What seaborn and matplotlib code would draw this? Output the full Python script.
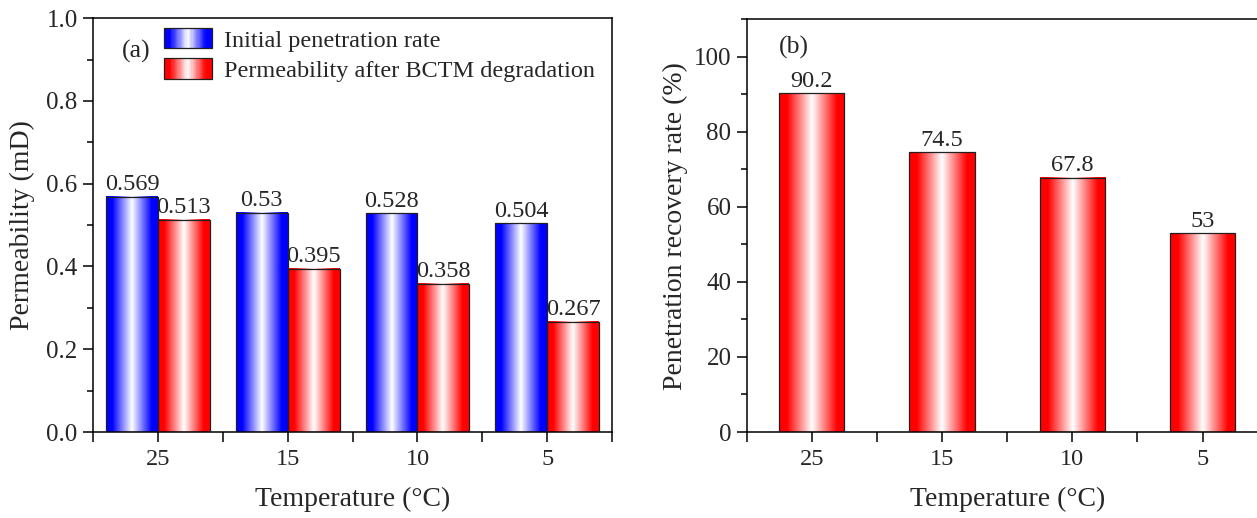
import numpy as np
import pandas as pd
import matplotlib
matplotlib.use("Agg")
import matplotlib.pyplot as plt
import seaborn as sns
from matplotlib.colors import LinearSegmentedColormap
from matplotlib.legend_handler import HandlerBase
from matplotlib.patches import Rectangle, Patch
from matplotlib.ticker import MultipleLocator, FixedLocator, FormatStrFormatter

# data
temps = ["25", "15", "10", "5"]
initial_perm = [0.569, 0.53, 0.528, 0.504]
degraded_perm = [0.513, 0.395, 0.358, 0.267]
recovery_rate = [90.2, 74.5, 67.8, 53]
series_names = ["Initial penetration rate", "Permeability after BCTM degradation"]

BLUE = "#0000ff"
RED = "#ff0000"

sns.set_style("ticks")
plt.rcParams["font.family"] = ["Liberation Serif", "DejaVu Serif"]


def grad_cmap(c):
    return LinearSegmentedColormap.from_list(
        "g", [(0, c), (0.12, c), (0.5, "white"), (0.88, c), (1, c)])


def fill_gradient(ax, patch, c):
    # paint a horizontal colour-white-colour gradient inside a bar
    x, y = patch.get_x(), patch.get_y()
    w, h = patch.get_width(), patch.get_height()
    grad = np.linspace(0, 1, 256).reshape(1, -1)
    ax.imshow(grad, cmap=grad_cmap(c), extent=[x, x + w, y, y + h],
              aspect="auto", zorder=2, interpolation="bilinear")
    patch.set_facecolor("none")
    patch.set_edgecolor("#202020")
    patch.set_linewidth(0.9)
    patch.set_zorder(3)


class GradientHandler(HandlerBase):
    def __init__(self, color):
        super().__init__()
        self.color = color

    def create_artists(self, legend, orig_handle, xdescent, ydescent,
                       width, height, fontsize, trans):
        cmap = grad_cmap(self.color)
        n = 40
        arts = []
        for i in range(n):
            r = Rectangle((-xdescent + width * i / n, -ydescent), width / n * 1.05, height,
                          facecolor=cmap((i + 0.5) / n), edgecolor="none",
                          linewidth=0, antialiased=False, transform=trans)
            arts.append(r)
        arts.append(Rectangle((-xdescent, -ydescent), width, height, facecolor="none",
                              edgecolor="#202020", linewidth=0.9, transform=trans))
        return arts


def style_axes(ax):
    for s in ax.spines.values():
        s.set_visible(True)
        s.set_linewidth(1.1)
        s.set_color("black")
    ax.tick_params(axis="both", which="both", direction="out", color="black",
                   width=1.1, top=False, right=False)
    ax.tick_params(axis="y", which="major", length=7, labelsize=18, pad=4)
    ax.tick_params(axis="y", which="minor", length=4)
    ax.tick_params(axis="x", which="major", length=7, labelsize=17.5, pad=5)
    ax.tick_params(axis="x", which="minor", length=7)
    ax.xaxis.set_minor_locator(FixedLocator([-0.5, 0.5, 1.5, 2.5, 3.5]))


fig = plt.figure(figsize=(12.57, 5.18), dpi=100)
ax1 = fig.add_axes([0.074, 0.166, 0.413, 0.799])
ax2 = fig.add_axes([0.594, 0.166, 0.4145, 0.797])

# panel (a)
df_a = pd.DataFrame({
    "temp": temps * 2,
    "series": [series_names[0]] * 4 + [series_names[1]] * 4,
    "value": initial_perm + degraded_perm,
})
sns.barplot(data=df_a, x="temp", y="value", hue="series", order=temps,
            hue_order=series_names, palette=[BLUE, RED], width=0.8,
            errorbar=None, legend=False, ax=ax1)
for cont, c, vals in zip(ax1.containers, [BLUE, RED], [initial_perm, degraded_perm]):
    for p in cont.patches:
        fill_gradient(ax1, p, c)
    ax1.bar_label(cont, labels=[str(v) for v in vals], padding=1, fontsize=17.5)
ax1.set_xlim(-0.5, 3.5)
ax1.set_ylim(0, 1.0)
ax1.yaxis.set_major_locator(MultipleLocator(0.2))
ax1.yaxis.set_minor_locator(MultipleLocator(0.1))
ax1.yaxis.set_major_formatter(FormatStrFormatter("%.1f"))
style_axes(ax1)
ax1.set_xlabel("Temperature (°C)", fontsize=20, labelpad=12)
ax1.set_ylabel("Permeability (mD)", fontsize=20, labelpad=8)
ax1.text(0.084, 0.919, "(a)", transform=ax1.transAxes, fontsize=18.5,
         ha="center", va="center")

h1, h2 = Patch(), Patch()
ax1.legend([h1, h2], series_names,
           handler_map={h1: GradientHandler(BLUE), h2: GradientHandler(RED)},
           loc="upper left", bbox_to_anchor=(0.137, 0.976), frameon=False,
           fontsize=17.5, handlelength=1.95, handleheight=0.9,
           handletextpad=0.5, labelspacing=0.28, borderpad=0, borderaxespad=0)

# panel (b)
df_b = pd.DataFrame({"temp": temps, "rate": recovery_rate})
sns.barplot(data=df_b, x="temp", y="rate", order=temps, color=RED, width=0.5,
            errorbar=None, ax=ax2)
for p in ax2.containers[0].patches:
    fill_gradient(ax2, p, RED)
ax2.bar_label(ax2.containers[0], labels=[f"{v:g}" for v in recovery_rate],
              padding=1, fontsize=17.5)
ax2.set_xlim(-0.5, 3.5)
ax2.set_ylim(0, 110)
ax2.yaxis.set_major_locator(MultipleLocator(20))
ax2.yaxis.set_minor_locator(MultipleLocator(10))
style_axes(ax2)
ax2.set_xlabel("Temperature (°C)", fontsize=20, labelpad=12)
ax2.set_ylabel("Penetration recovery rate (%)", fontsize=20, labelpad=4)
ax2.text(0.09, 0.932, "(b)", transform=ax2.transAxes, fontsize=18.5,
         ha="center", va="center")

fig.savefig("out.png", dpi=100)
